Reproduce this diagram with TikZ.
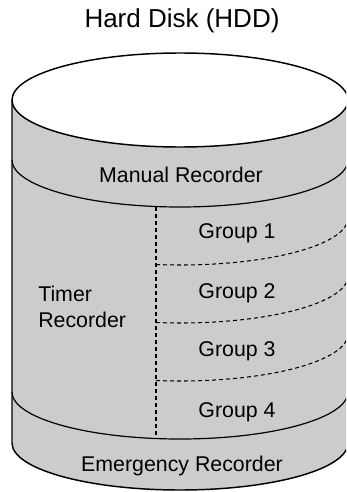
\documentclass[tikz,border=0pt]{standalone}
\usepackage{fontspec}
\setmainfont{Liberation Sans}
\definecolor{diskgray}{HTML}{CCCCCC}
\tikzset{
  lbl/.style={font=\fontsize{16}{19}\selectfont,inner sep=0pt},
  rim/.style={line width=1.1pt},
  part/.style={line width=0.8pt,dash pattern=on 3pt off 2.25pt}
}
\begin{document}
\begin{tikzpicture}[x=0.75pt,y=0.75pt]
\clip (0,0) rectangle (346,-492);
\node[font=\fontsize{19.5}{23}\selectfont,inner sep=0pt](title)at(182,-21){Hard Disk (HDD)};
% body of the disk
\fill[diskgray] (12,-100) -- (12,-443) arc[start angle=180,end angle=360,x radius=168,y radius=47] -- (348,-100) -- cycle;
\draw[rim] (12,-100) -- (12,-443) arc[start angle=180,end angle=360,x radius=168,y radius=47] -- (348,-100);
\draw[rim,fill=white] (180,-100) ellipse[x radius=168,y radius=47];
\draw[line width=0.9pt] (12,-160) arc[start angle=180,end angle=360,x radius=168,y radius=47];
\draw[line width=0.9pt] (12,-392) arc[start angle=180,end angle=360,x radius=168,y radius=47];
% timer groups
\draw[part] (156,-206.5) -- (156,-438.5);
\foreach \c in {218,276,334}
  \draw[part] (180,-\c) ++(261.8:168 and 47) arc[start angle=261.8,end angle=360,x radius=168,y radius=47];
\node[lbl](manual)at(181,-175){Manual Recorder};
\node[lbl,align=left,anchor=west](timer)at(38,-307){Timer\\Recorder};
\node[lbl](g1)at(237,-233){Group 1};
\node[lbl](g2)at(237,-293){Group 2};
\node[lbl](g3)at(237,-351){Group 3};
\node[lbl](g4)at(237,-412){Group 4};
\node[lbl](emergency)at(182,-466){Emergency Recorder};
\end{tikzpicture}
\end{document}
